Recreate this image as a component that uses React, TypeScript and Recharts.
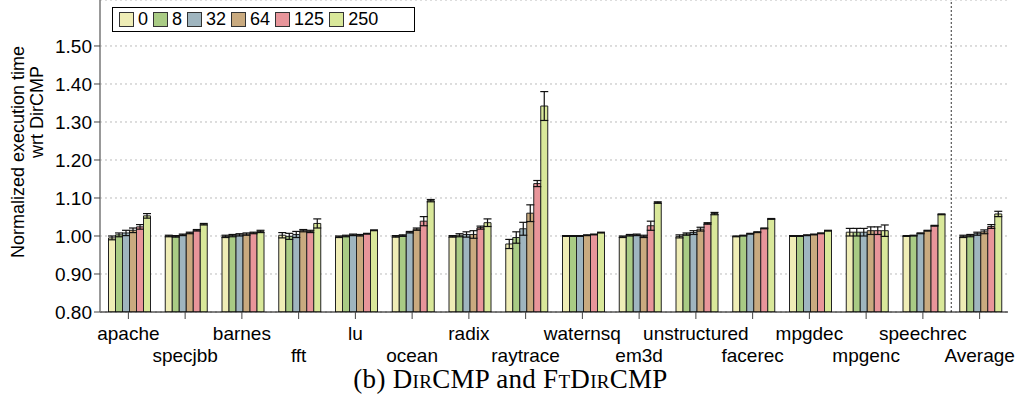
import React from 'react';
import { BarChart, Bar, XAxis, YAxis, CartesianGrid, ErrorBar, ReferenceLine } from 'recharts';

const categories = [
  'apache', 'specjbb', 'barnes', 'fft', 'lu', 'ocean', 'radix', 'raytrace',
  'waternsq', 'em3d', 'unstructured', 'facerec', 'mpgdec', 'mpgenc', 'speechrec', 'Average',
];

const seriesNames = ['0', '8', '32', '64', '125', '250'];
const seriesColors = ['#efedb6', '#a9cb84', '#9fb5bf', '#c9aa7f', '#e8959a', '#d9e89a'];

const s0 = [0.995, 1.0, 0.999, 1.002, 0.998, 0.999, 0.999, 0.979, 1.0, 0.998, 0.999, 0.999, 1.0, 1.01, 1.0, 0.999];
const s8 = [1.003, 0.999, 1.001, 0.999, 1.0, 1.001, 1.002, 0.996, 1.0, 1.002, 1.005, 1.001, 1.0, 1.01, 1.001, 1.001];
const s32 = [1.008, 1.003, 1.003, 1.004, 1.003, 1.01, 1.004, 1.019, 1.0, 1.003, 1.009, 1.006, 1.002, 1.01, 1.007, 1.006];
const s64 = [1.015, 1.008, 1.005, 1.014, 1.002, 1.018, 1.004, 1.06, 1.002, 0.999, 1.018, 1.01, 1.004, 1.014, 1.014, 1.011];
const s125 = [1.024, 1.015, 1.008, 1.012, 1.006, 1.039, 1.022, 1.138, 1.004, 1.027, 1.033, 1.02, 1.007, 1.014, 1.027, 1.025];
const s250 = [1.053, 1.031, 1.012, 1.033, 1.015, 1.093, 1.035, 1.342, 1.009, 1.088, 1.059, 1.045, 1.014, 1.014, 1.057, 1.058];

// error bar half-widths
const e0 = [0.005, 0.002, 0.003, 0.007, 0.002, 0.002, 0.002, 0.012, 0.001, 0.002, 0.004, 0.001, 0.001, 0.01, 0.001, 0.003];
const e8 = [0.005, 0.002, 0.003, 0.008, 0.002, 0.002, 0.004, 0.015, 0.001, 0.002, 0.003, 0.001, 0.001, 0.01, 0.001, 0.003];
const e32 = [0.007, 0.002, 0.003, 0.008, 0.002, 0.002, 0.007, 0.017, 0.001, 0.002, 0.005, 0.001, 0.001, 0.01, 0.001, 0.004];
const e64 = [0.006, 0.002, 0.003, 0.003, 0.002, 0.003, 0.01, 0.022, 0.001, 0.003, 0.005, 0.001, 0.001, 0.01, 0.001, 0.005];
const e125 = [0.006, 0.002, 0.002, 0.003, 0.001, 0.012, 0.004, 0.008, 0.001, 0.012, 0.002, 0.001, 0.001, 0.01, 0.001, 0.005];
const e250 = [0.006, 0.002, 0.003, 0.012, 0.001, 0.003, 0.01, 0.038, 0.001, 0.002, 0.003, 0.001, 0.001, 0.015, 0.001, 0.007];

const yTicks = [0.8, 0.9, 1.0, 1.1, 1.2, 1.3, 1.4, 1.5];

const values = [s0, s8, s32, s64, s125, s250];
const errors = [e0, e8, e32, e64, e125, e250];

const data = categories.map((name, i) => {
  const row: Record<string, number | string> = { name };
  values.forEach((arr, k) => {
    row['v' + k] = arr[i];
    row['e' + k] = errors[k][i];
  });
  return row;
});

const font = 'Liberation Sans, Arial, sans-serif';

const CategoryTick = (props: any) => {
  const { x, y, payload } = props;
  const odd = payload.index % 2 === 1;
  return (
    <text x={x} y={y + (odd ? 41 : 19)} textAnchor="middle" fontSize={19} fontFamily={font} fill="#000">
      {payload.value}
    </text>
  );
};

const sc = { fontVariant: 'small-caps' as const };

export default function App() {
  return (
    <div style={{ position: 'absolute', left: 0, top: 0, width: 1021, height: 407, background: '#fff' }}>
      <BarChart
        width={1021}
        height={407}
        data={data}
        margin={{ top: 0, right: 13, left: 0, bottom: 35 }}
        barCategoryGap="15%"
        barGap={0}
      >
        <CartesianGrid vertical={false} stroke="#bbb" strokeDasharray="2 3" />
        <XAxis
          dataKey="name"
          height={60}
          interval={0}
          tick={<CategoryTick />}
          tickSize={7}
          tickLine={{ stroke: '#444' }}
          axisLine={{ stroke: '#000' }}
        />
        <YAxis
          width={100}
          domain={[0.8, 1.621]}
          ticks={yTicks}
          allowDataOverflow
          tickFormatter={(v: number) => v.toFixed(2)}
          tick={{ fontSize: 19, fontFamily: font, fill: '#000' }}
          tickSize={6}
          tickMargin={2}
          tickLine={{ stroke: '#444' }}
          axisLine={{ stroke: '#777', strokeWidth: 1.5 }}
        />
        <ReferenceLine x="Average" position="start" stroke="#333" strokeDasharray="2 2" />
        {seriesNames.map((n, k) => (
          <Bar
            key={n}
            dataKey={'v' + k}
            name={n}
            fill={seriesColors[k]}
            stroke="#222"
            strokeWidth={1}
            isAnimationActive={false}
          >
            <ErrorBar dataKey={'e' + k} width={4} stroke="#111" strokeWidth={1.2} />
          </Bar>
        ))}
      </BarChart>

      <div
        style={{
          position: 'absolute', left: 112, top: 7, width: 303, height: 25,
          border: '1px solid #000', background: '#fff', display: 'flex', alignItems: 'center',
          fontFamily: font, fontSize: 18, paddingLeft: 6, boxSizing: 'border-box',
        }}
      >
        {seriesNames.map((n, k) => (
          <span key={n} style={{ display: 'flex', alignItems: 'center', marginRight: 5 }}>
            <span style={{ width: 13, height: 13, background: seriesColors[k], border: '1px solid #333', marginRight: 4 }} />
            <span>{n}</span>
          </span>
        ))}
      </div>

      <div style={{ position: 'absolute', left: 18, top: 152, transform: 'translate(-50%,-50%) rotate(-90deg)', whiteSpace: 'nowrap', fontFamily: font, fontSize: 18 }}>
        Normalized execution time
      </div>
      <div style={{ position: 'absolute', left: 37, top: 112, transform: 'translate(-50%,-50%) rotate(-90deg)', whiteSpace: 'nowrap', fontFamily: font, fontSize: 18 }}>
        wrt DirCMP
      </div>

      <div style={{ position: 'absolute', left: 0, top: 364, width: 1021, textAlign: 'center', fontFamily: 'Liberation Serif, serif', fontSize: 27, letterSpacing: 0.3 }}>
        (b) D<span style={sc}>ir</span>CMP and F<span style={sc}>t</span>D<span style={sc}>ir</span>CMP
      </div>
    </div>
  );
}
